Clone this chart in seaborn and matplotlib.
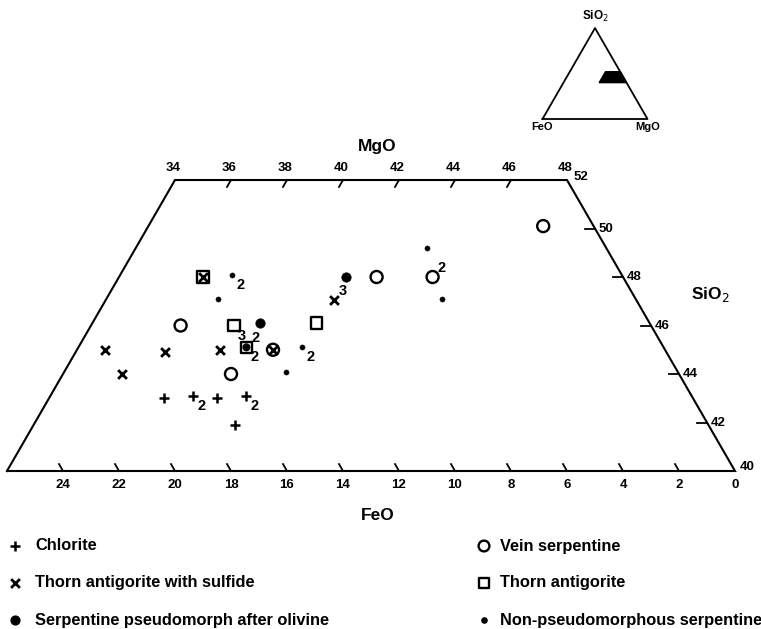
import matplotlib
matplotlib.use("Agg")
import matplotlib.pyplot as plt
import numpy as np
import pandas as pd
import seaborn as sns

# compositions (wt%); MgO is the remainder to 100
chlorite_feo = [18.9, 17.8, 17.0, 15.9, 16.9]
chlorite_sio2 = [43.0, 43.1, 43.0, 43.1, 41.9]

sulfide_feo = [15.0, 20.0, 19.9, 17.9, 15.9, 14.0, 10.8]
sulfide_sio2 = [48.0, 45.0, 44.0, 44.9, 45.0, 45.0, 47.05]

pseudo_feo = [13.9, 9.9]
pseudo_sio2 = [46.1, 48.0]

vein_feo = [16.8, 16.0, 14.0, 8.8, 6.8, 1.8]
vein_sio2 = [46.0, 44.0, 45.0, 48.0, 48.0, 50.1]

thorn_feo = [15.0, 14.9, 14.9, 11.9]
thorn_sio2 = [48.0, 46.0, 45.1, 46.1]

nonpseudo_feo = [13.9, 14.9, 14.9, 12.9, 14.0, 6.4, 6.9]
nonpseudo_sio2 = [48.1, 47.1, 45.1, 45.1, 44.1, 49.2, 47.1]

# small ring drawn inside the square at the mixed point
ring_feo = [14.9]
ring_sio2 = [45.1]

# number of analyses written next to points
note_feo = [13.9, 14.9, 14.9, 14.9, 12.9, 17.8, 15.9, 10.8, 6.8]
note_sio2 = [48.1, 46.0, 45.1, 45.1, 45.1, 43.1, 43.1, 47.05, 48.0]
note_text = ["2", "3", "2", "2", "2", "2", "2", "3", "2"]
note_pos = ["low", "low", "up", "low", "low", "low", "low", "up", "up"]

# frame of the diagram section
sio2_min, sio2_max = 40, 52
mgo_min = 34
feo_ticks = list(range(24, -1, -2))
mgo_ticks = list(range(34, 49, 2))
sio2_ticks = list(range(42, 51, 2))

legend_left = ["Chlorite", "Thorn antigorite with sulfide", "Serpentine pseudomorph after olivine"]
legend_right = ["Vein serpentine", "Thorn antigorite", "Non-pseudomorphous serpentine"]

R3 = np.sqrt(3) / 2
PX = 1 / 28.0  # one pixel in diagram units


def cart(feo, sio2):
    feo = np.asarray(feo, dtype=float)
    sio2 = np.asarray(sio2, dtype=float)
    mgo = 100 - feo - sio2
    return mgo + sio2 / 2, sio2 * R3


def make_df(feo, sio2):
    x, y = cart(feo, sio2)
    return pd.DataFrame({"x": x, "y": y})


plt.rcParams['font.family'] = ['Liberation Sans', 'DejaVu Sans']
fig = plt.figure(figsize=(7.61, 6.29), dpi=100)
ax = fig.add_axes([0, 0, 1, 1])
ax.set_xlim(80 - 735 * PX, 80 + 26 * PX)
ax.set_ylim(40 * R3 - 158 * PX, 40 * R3 + 471 * PX)
ax.set_aspect("equal")
ax.axis("off")

# trapezoid outline
corner_feo = [100 - sio2_min - mgo_min, 100 - sio2_max - mgo_min, 0, 0, 100 - sio2_min - mgo_min]
corner_sio2 = [sio2_min, sio2_max, sio2_max, sio2_min, sio2_min]
cx, cy = cart(corner_feo, corner_sio2)
ax.plot(cx, cy, color="black", lw=1.5, solid_joinstyle="miter")

tl = 8 * PX
tick_kw = dict(color="black", lw=1.3)
lab_kw = dict(fontsize=9.5, fontweight="bold")

# bottom: FeO
for f in feo_ticks:
    bx, by = cart(f, sio2_min)
    if f != 0:
        ax.plot([bx, bx - 0.5 * tl], [by, by + R3 * tl], **tick_kw)
    ax.text(bx, by - 8 * PX, str(f), ha="center", va="top", **lab_kw)

# top: MgO
for m in mgo_ticks:
    bx, by = cart(100 - sio2_max - m, sio2_max)
    if mgo_ticks[0] < m < mgo_ticks[-1]:
        ax.plot([bx, bx - 0.5 * tl], [by, by - R3 * tl], **tick_kw)
    ax.text(bx - 2 * PX, by + 6 * PX, str(m), ha="center", va="bottom", **lab_kw)

# right: SiO2
for s in sio2_ticks:
    bx, by = cart(0, s)
    ax.plot([bx, bx - 1.2 * tl], [by, by], **tick_kw)
    ax.text(bx + 4 * PX, by, str(s), ha="left", va="center", **lab_kw)
bx, by = cart(0, sio2_max)
ax.text(bx + 7 * PX, by + 3 * PX, str(sio2_max), ha="left", va="center", **lab_kw)
bx, by = cart(0, sio2_min)
ax.text(bx + 5 * PX, by + 4 * PX, str(sio2_min), ha="left", va="center", **lab_kw)

# axis names
title_kw = dict(fontsize=12.5, fontweight="bold", ha="center", va="center")
fig.text(377 / 761, 1 - 147 / 629, "MgO", **title_kw)
fig.text(378 / 761, 1 - 515 / 629, "FeO", **title_kw)
fig.text(710 / 761, 1 - 295 / 629, "SiO$_2$", **title_kw)

# data points
ink = "black"
sns.scatterplot(data=make_df(chlorite_feo, chlorite_sio2), x="x", y="y", ax=ax,
                marker="+", s=55, color=ink, linewidth=1.8, zorder=3)
sns.scatterplot(data=make_df(sulfide_feo, sulfide_sio2), x="x", y="y", ax=ax,
                marker="x", s=40, color=ink, linewidth=2.0, zorder=3)
sns.scatterplot(data=make_df(pseudo_feo, pseudo_sio2), x="x", y="y", ax=ax,
                marker="o", s=45, color=ink, edgecolor=ink, zorder=3)
sns.scatterplot(data=make_df(vein_feo, vein_sio2), x="x", y="y", ax=ax,
                marker="o", s=75, facecolor="none", edgecolor=ink, linewidth=1.7, zorder=3)
sns.scatterplot(data=make_df(thorn_feo, thorn_sio2), x="x", y="y", ax=ax,
                marker="s", s=70, facecolor="none", edgecolor=ink, linewidth=1.7, zorder=3)
sns.scatterplot(data=make_df(nonpseudo_feo, nonpseudo_sio2), x="x", y="y", ax=ax,
                marker="o", s=14, color=ink, edgecolor=ink, zorder=4)
sns.scatterplot(data=make_df(ring_feo, ring_sio2), x="x", y="y", ax=ax,
                marker="o", s=22, facecolor="none", edgecolor=ink, linewidth=1.1, zorder=4)

nx, ny = cart(note_feo, note_sio2)
for xx, yy, t, p in zip(nx, ny, note_text, note_pos):
    off = (9, 9) if p == "up" else (8, -10)
    ax.annotate(t, (xx, yy), xytext=off, textcoords="offset pixels",
                ha="center", va="center", fontsize=10.5, fontweight="bold")

# legend, two columns
leg_markers_left = [dict(marker="+", s=55, color=ink, linewidth=1.8),
                    dict(marker="x", s=40, color=ink, linewidth=2.0),
                    dict(marker="o", s=40, color=ink)]
leg_markers_right = [dict(marker="o", s=60, facecolor="none", edgecolor=ink, linewidth=1.7),
                     dict(marker="s", s=55, facecolor="none", edgecolor=ink, linewidth=1.7),
                     dict(marker="o", s=14, color=ink)]
rows = [546, 583, 620]
for col_x, txt_x, labels, mk in [(15, 35, legend_left, leg_markers_left),
                                 (484, 500, legend_right, leg_markers_right)]:
    for ry, lab, m in zip(rows, labels, mk):
        ax.scatter([col_x / 761], [1 - ry / 629], transform=fig.transFigure, clip_on=False, **m)
        fig.text(txt_x / 761, 1 - ry / 629, lab, fontsize=11.8, fontweight="bold",
                 ha="left", va="center")

# location inset: whole ternary with the shown field filled
ins = fig.add_axes([520 / 761, 1 - 140 / 629, 160 / 761, 140 / 629])
sc = 105.0 / 100
left_px, base_px = 542.5, 119
ins.set_xlim(-(left_px - 520) / sc, -(left_px - 520) / sc + 160 / sc)
ins.set_ylim(-(140 - base_px) / sc, base_px / sc)
ins.set_aspect("equal")
ins.axis("off")
ins.plot([0, 100, 50, 0], [0, 0, 50 * np.sqrt(3), 0], color=ink, lw=1.3)
ins.fill(cx[:4], cy[:4], color=ink)
ins.text(50, 50 * np.sqrt(3) + 4, "SiO$_2$", ha="center", va="bottom", fontsize=8.5, fontweight="bold")
ins.text(0, -3, "FeO", ha="center", va="top", fontsize=8, fontweight="bold")
ins.text(100, -3, "MgO", ha="center", va="top", fontsize=8, fontweight="bold")

fig.savefig("out.png", dpi=100)
